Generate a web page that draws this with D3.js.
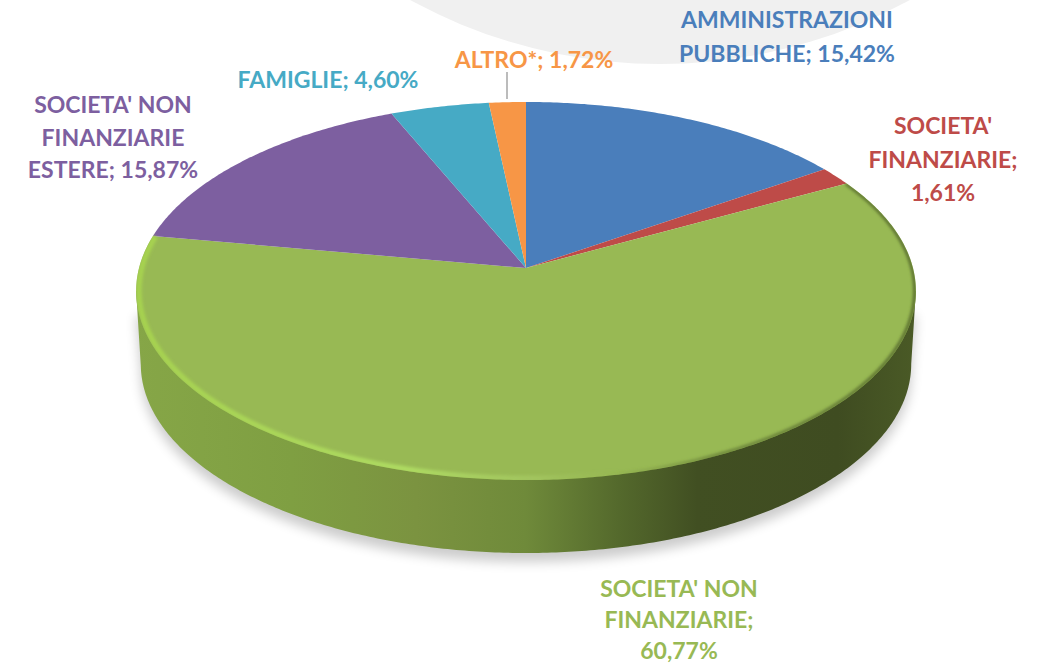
<!DOCTYPE html>
<html><head><meta charset="utf-8">
<script src="https://cdn.jsdelivr.net/npm/d3@7"></script>
<style>html,body{margin:0;padding:0;background:#fff}svg{display:block}text{font-family:Lato,"Open Sans",sans-serif;font-weight:700}</style>
</head><body><svg id="c" width="1040" height="664"></svg>
<script>
const categories=["AMMINISTRAZIONI PUBBLICHE","SOCIETA' FINANZIARIE","SOCIETA' NON FINANZIARIE","SOCIETA' NON FINANZIARIE ESTERE","FAMIGLIE","ALTRO*"];
const values=[15.42,1.61,60.77,15.87,4.60,1.72];
const colors=["#4a7ebb","#be4b48","#98b954","#7d5fa0","#46aac5","#f79646"];
const labelLines=[["AMMINISTRAZIONI","PUBBLICHE; 15,42%"],["SOCIETA'","FINANZIARIE;","1,61%"],["SOCIETA' NON","FINANZIARIE;","60,77%"],["SOCIETA' NON","FINANZIARIE","ESTERE; 15,87%"],["FAMIGLIE; 4,60%"],["ALTRO*; 1,72%"]];
const labelAnchor=[[787,20],[943,126],[679,589],[113,105],[328,80],[534,60]];
const lineGap=[34,33.5,31,32.5,0,0];

const svg=d3.select("#c");
const defs=svg.append("defs");
const cx=526,cy=268,c=387,k=0.1217,b=153.6;
// perspective projection of a pie angle on the tilted disc (r: radius, xs: x squeeze, dy: drop)
function proj(a,r=1,dy=0,xs=1){const u=r*Math.sin(a),v=r*Math.cos(a),w=1+k*v;
  return [cx+xs*c*u/w,(cy-b*v)/w+dy];}
const line=d3.line();
const TAU=Math.PI*2;
const arcs=d3.pie().sort(null).value(d=>d)(values);

// background disc
svg.append("ellipse").attr("cx",660).attr("cy",-456).attr("rx",520).attr("ry",520).attr("fill","#f0f0f0");

// gradients
const side=defs.append("linearGradient").attr("id","side").attr("gradientUnits","userSpaceOnUse").attr("x1",135).attr("x2",916).attr("y1",0).attr("y2",0);
[[0,"#86a647"],[.2,"#7f9f42"],[.36,"#7b9340"],[.5,"#6f8a3a"],[.62,"#54692c"],[.72,"#414f22"],[.9,"#3f4c21"],[1,"#4a5a26"]].forEach(d=>side.append("stop").attr("offset",d[0]).attr("stop-color",d[1]));
const bev=defs.append("linearGradient").attr("id","bev").attr("gradientUnits","userSpaceOnUse").attr("x1",135).attr("x2",916).attr("y1",0).attr("y2",0);
[[0,"#a6d24f",1],[.35,"#aedb62",1],[.52,"#a5c862",.7],[.62,"#98b954",0],[1,"#98b954",0]].forEach(d=>bev.append("stop").attr("offset",d[0]).attr("stop-color",d[1]).attr("stop-opacity",d[2]));
const dark=defs.append("linearGradient").attr("id","dark").attr("gradientUnits","userSpaceOnUse").attr("x1",135).attr("x2",916).attr("y1",0).attr("y2",0);
[[0,"#6f8a3a",0],[.6,"#6f8a3a",0],[.75,"#5f7532",.8],[1,"#55692c",1]].forEach(d=>dark.append("stop").attr("offset",d[0]).attr("stop-color",d[1]).attr("stop-opacity",d[2]));
const mkBlur=(id,s)=>defs.append("filter").attr("id",id).attr("x","-10%").attr("y","-10%").attr("width","120%").attr("height","120%").append("feGaussianBlur").attr("stdDeviation",s);
mkBlur("blur",6);mkBlur("blur2",1.5);

const face=d3.range(0,TAU,0.01).map(a=>proj(a));
defs.append("clipPath").attr("id","faceClip").append("path").attr("d",line(face)+"Z");

const depth=73;
const aW=Math.acos(-k);
const rim=d3.range(aW,TAU-aW+0.001,0.01).map(a=>proj(a,1,depth,0.988));
const sidePts=rim.concat([proj(TAU-aW),proj(aW)]);
svg.append("path").attr("d",line(rim.map(p=>[p[0],p[1]+9]).concat([proj(TAU-aW,1,25),proj(aW,1,25)]))+"Z").attr("fill","#000").attr("opacity",.2).attr("filter","url(#blur)");
svg.append("path").attr("d",line(sidePts)+"Z").attr("fill","url(#side)");

// top face slices
svg.append("g").selectAll("path").data(arcs).join("path")
  .attr("d",d=>{const n=Math.max(2,Math.ceil((d.endAngle-d.startAngle)/0.01));
    const pts=d3.range(n+1).map(i=>proj(d.startAngle+(d.endAngle-d.startAngle)*i/n));
    return line([[cx,cy]].concat(pts))+"Z";})
  .attr("fill",(d,i)=>colors[i]);

// edge shading of the face, clipped to it
const fx=svg.append("g").attr("clip-path","url(#faceClip)");
const greenEnd=arcs[2].endAngle;
fx.append("path").attr("d",line(d3.range(arcs[2].startAngle,greenEnd,0.01).map(a=>proj(a,0.997)))).attr("fill","none").attr("stroke","url(#dark)").attr("stroke-width",3).attr("filter","url(#blur2)");
fx.append("path").attr("d",line(d3.range(Math.PI*0.75,greenEnd,0.01).map(a=>proj(a,0.993)))).attr("fill","none").attr("stroke","url(#bev)").attr("stroke-width",5.5).attr("filter","url(#blur2)");

// leader line
svg.append("line").attr("x1",507).attr("x2",507).attr("y1",72).attr("y2",99).attr("stroke","#a6a6a6").attr("stroke-width",1.5);

// labels
const txt=svg.append("g").selectAll("g").data(labelLines).join("g").attr("fill",(d,i)=>colors[i]);
txt.each(function(lines,i){
  const g=d3.select(this);
  lines.forEach((t,j)=>{
    g.append("text").attr("x",labelAnchor[i][0]).attr("y",labelAnchor[i][1]+j*lineGap[i]).attr("text-anchor","middle").attr("dy","0.35em").attr("font-size",23).text(t);
  });
});
</script></body></html>
